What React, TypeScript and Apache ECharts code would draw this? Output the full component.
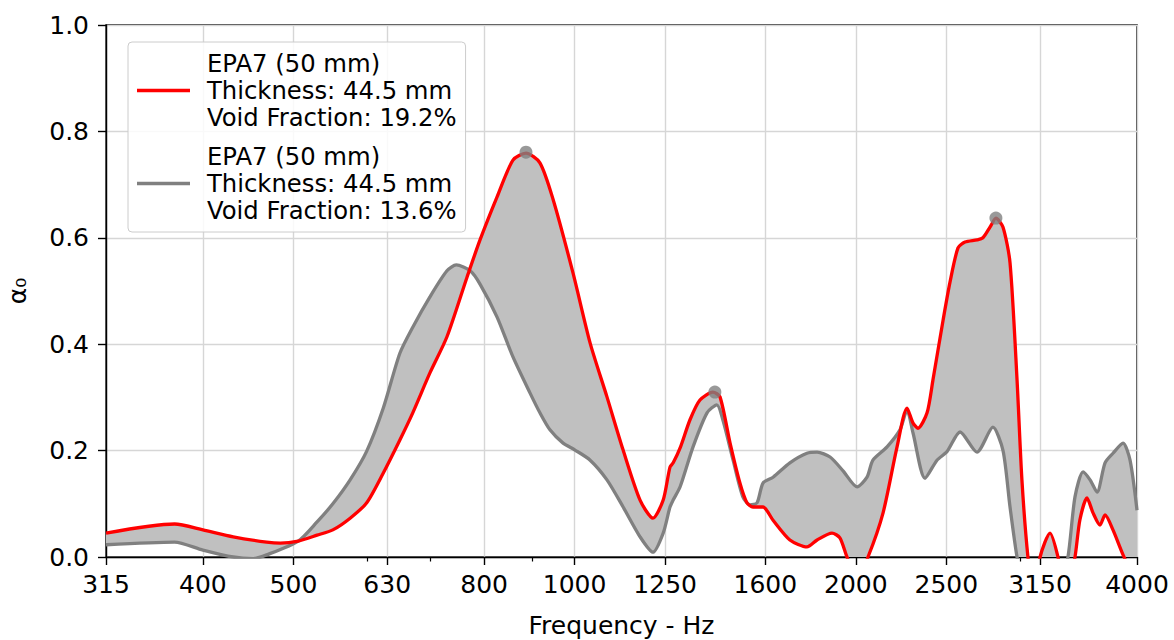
import React, { useEffect, useRef } from "react";
import * as echarts from "echarts";

const tickFreqs = [315, 400, 500, 630, 800, 1000, 1250, 1600, 2000, 2500, 3150, 4000];
const tickLabels = ["315", "400", "500", "630", "800", "1000", "1250", "1600", "2000", "2500", "3150", "4000"];
const minorFreqs = [600, 700, 900, 3000];

const redName = "EPA7 (50 mm)\nThickness: 44.5 mm\nVoid Fraction: 19.2%";
const grayName = "EPA7 (50 mm)\nThickness: 44.5 mm\nVoid Fraction: 13.6%";

// [frequency Hz, absorption coefficient]
const redCurve: [number, number][] = [
  [315, 0.045], [373, 0.062], [400, 0.051], [431, 0.038], [468, 0.028], [484, 0.026],
  [506, 0.03], [530, 0.041], [551, 0.051], [575, 0.073], [599, 0.102], [624, 0.158],
  [650, 0.22], [671, 0.271], [700, 0.346], [730, 0.414], [767, 0.526], [792, 0.596],
  [826, 0.677], [859, 0.746], [887, 0.759], [918, 0.741], [948, 0.673], [996, 0.534],
  [1039, 0.402], [1083, 0.301], [1127, 0.201], [1175, 0.107], [1213, 0.073], [1244, 0.107],
  [1265, 0.169], [1275, 0.177], [1297, 0.205], [1329, 0.258], [1362, 0.295], [1406, 0.31],
  [1431, 0.301], [1467, 0.214], [1503, 0.139], [1529, 0.102], [1552, 0.094], [1591, 0.094],
  [1631, 0.069], [1700, 0.032], [1773, 0.019], [1818, 0.032], [1886, 0.045], [1923, 0.036],
  [1957, 0.0], [2006, -0.04], [2061, 0.0], [2139, 0.083], [2214, 0.207], [2269, 0.28],
  [2303, 0.252], [2331, 0.242], [2384, 0.271], [2419, 0.333], [2480, 0.445], [2523, 0.517],
  [2573, 0.581], [2618, 0.592], [2696, 0.596], [2736, 0.6], [2784, 0.62], [2825, 0.637],
  [2875, 0.62], [2925, 0.553], [2976, 0.333], [3012, 0.145], [3057, 0.0], [3103, -0.08],
  [3150, 0.0], [3228, 0.045], [3292, 0.0], [3358, -0.08], [3433, 0.0], [3475, 0.07],
  [3536, 0.111], [3589, 0.083], [3651, 0.06], [3697, 0.079], [3770, 0.051], [3865, 0.004],
  [4000, -0.05],
];

const grayCurve: [number, number][] = [
  [315, 0.023], [373, 0.028], [400, 0.013], [431, 0.0], [453, -0.003], [468, 0.004],
  [506, 0.03], [530, 0.066], [551, 0.1], [575, 0.145], [599, 0.199], [624, 0.28],
  [650, 0.383], [671, 0.432], [700, 0.489], [730, 0.538], [747, 0.549], [773, 0.538],
  [792, 0.513], [826, 0.451], [859, 0.376], [896, 0.308], [918, 0.271], [941, 0.239],
  [972, 0.214], [1001, 0.201], [1039, 0.182], [1083, 0.145], [1127, 0.094], [1175, 0.038],
  [1213, 0.009], [1244, 0.045], [1265, 0.094], [1275, 0.107], [1297, 0.132], [1339, 0.207],
  [1386, 0.271], [1420, 0.286], [1442, 0.256], [1478, 0.182], [1514, 0.113], [1541, 0.098],
  [1568, 0.102], [1591, 0.139], [1631, 0.15], [1700, 0.177], [1773, 0.195], [1818, 0.197],
  [1877, 0.188], [1938, 0.162], [2006, 0.132], [2056, 0.15], [2086, 0.182], [2160, 0.207],
  [2230, 0.239], [2269, 0.276], [2303, 0.233], [2372, 0.148], [2443, 0.182], [2504, 0.198],
  [2586, 0.235], [2696, 0.197], [2804, 0.244], [2875, 0.2], [2925, 0.094], [2976, 0.0],
  [3165, -0.25], [3374, 0.0], [3433, 0.113], [3502, 0.16], [3563, 0.145], [3625, 0.122],
  [3697, 0.177], [3770, 0.195], [3865, 0.214], [3932, 0.182], [4000, 0.088],
];

const peakPoints: [number, number][] = [
  [887, 0.761], [1413, 0.31], [2825, 0.637],
];

const lg = (f: number) => Math.log10(f);
const SMOOTH = 0.25;

function labelFor(v: number): string {
  let best = 0;
  let bestD = Infinity;
  tickFreqs.forEach((f, i) => {
    const d = Math.abs(lg(f) - v);
    if (d < bestD) {
      bestD = d;
      best = i;
    }
  });
  return tickLabels[best];
}

export default function App() {
  const ref = useRef<HTMLDivElement>(null);

  useEffect(() => {
    document.body.style.margin = "0";
    if (!ref.current) return;
    const chart = echarts.init(ref.current, null, { renderer: "svg" });
    const axisColor = "#000";
    const gridLine = { show: true, lineStyle: { color: "#d6d6d6", width: 1.4 } };

    const option: any = {
      animation: false,
      textStyle: { fontFamily: "DejaVu Sans" },
      grid: {
        left: 106,
        right: 37,
        top: 25,
        bottom: 83,
        show: true,
        borderColor: "#000",
        borderWidth: 1.4,
        backgroundColor: "transparent",
        containLabel: false,
        outerBoundsMode: "none",
      },
      legend: {
        data: [redName, grayName],
        orient: "vertical",
        left: 128,
        top: 42,
        padding: [8, 9, 8, 9],
        itemGap: 12,
        itemWidth: 53,
        itemHeight: 3.5,
        icon: "rect",
        selectedMode: false,
        backgroundColor: "rgba(255,255,255,0.85)",
        borderColor: "#cccccc",
        borderWidth: 1,
        borderRadius: 4,
        textStyle: {
          fontSize: 24.3,
          lineHeight: 27,
          color: "#000",
          fontFamily: "DejaVu Sans",
          padding: [0, 0, 0, 12],
        },
      },
      xAxis: [
        {
          type: "value",
          min: lg(315),
          max: lg(4000),
          name: "Frequency - Hz",
          nameLocation: "middle",
          nameGap: 56,
          nameTextStyle: { fontSize: 25, color: axisColor },
          axisLine: { show: true, lineStyle: { color: axisColor, width: 1.4 } },
          axisTick: {
            show: true,
            customValues: tickFreqs.map(lg),
            length: 8,
            lineStyle: { color: axisColor, width: 1.4 },
          },
          axisLabel: {
            customValues: tickFreqs.map(lg),
            formatter: (v: number) => labelFor(v),
            fontSize: 25,
            color: axisColor,
            margin: 15,
          },
          splitLine: gridLine,
        },
        {
          type: "value",
          min: lg(315),
          max: lg(4000),
          position: "bottom",
          axisLine: { show: false },
          axisTick: {
            show: true,
            customValues: minorFreqs.map(lg),
            length: 4.5,
            lineStyle: { color: axisColor, width: 1.2 },
          },
          axisLabel: { show: false },
          splitLine: { show: false },
        },
      ],
      yAxis: {
        type: "value",
        min: 0,
        max: 1,
        interval: 0.2,
        name: "α₀",
        nameLocation: "middle",
        nameGap: 76,
        nameRotate: 90,
        nameTextStyle: { fontSize: 25, color: axisColor },
        axisLine: { show: true, lineStyle: { color: axisColor, width: 1.4 } },
        axisTick: { show: true, length: 8, lineStyle: { color: axisColor, width: 1.4 } },
        axisLabel: {
          formatter: (v: number) => v.toFixed(1),
          fontSize: 25,
          color: axisColor,
          margin: 17,
        },
        splitLine: gridLine,
      },
      series: [
        {
          type: "custom",
          silent: true,
          z: 1,
          data: [[lg(315), 0]],
          renderItem: (params: any, api: any) => {
            const redPts = redCurve.map(([f, v]) => api.coord([lg(f), v]));
            const grayPts = grayCurve.map(([f, v]) => api.coord([lg(f), v])).reverse();
            const cs = params.coordSys;
            return {
              type: "polygon",
              shape: { points: redPts.concat(grayPts), smooth: SMOOTH },
              style: { fill: "#c0c0c0", stroke: null },
              clipPath: {
                type: "rect",
                shape: { x: cs.x, y: cs.y, width: cs.width, height: cs.height },
              },
            };
          },
        },
        {
          type: "line",
          name: grayName,
          data: grayCurve.map(([f, v]) => [lg(f), v]),
          symbol: "none",
          showSymbol: false,
          smooth: SMOOTH,
          clip: true,
          z: 3,
          color: "#808080",
          lineStyle: { color: "#808080", width: 3.3 },
          itemStyle: { color: "#808080" },
        },
        {
          type: "line",
          name: redName,
          data: redCurve.map(([f, v]) => [lg(f), v]),
          symbol: "none",
          showSymbol: false,
          smooth: SMOOTH,
          clip: true,
          z: 4,
          color: "#ff0000",
          lineStyle: { color: "#ff0000", width: 3.3 },
          itemStyle: { color: "#ff0000" },
        },
        {
          type: "scatter",
          data: peakPoints.map(([f, v]) => [lg(f), v]),
          symbol: "circle",
          symbolSize: 13,
          z: 5,
          itemStyle: { color: "#808080" },
        },
      ],
    };

    chart.setOption(option);
    return () => chart.dispose();
  }, []);

  return <div ref={ref} style={{ width: 1174, height: 640 }} />;
}
